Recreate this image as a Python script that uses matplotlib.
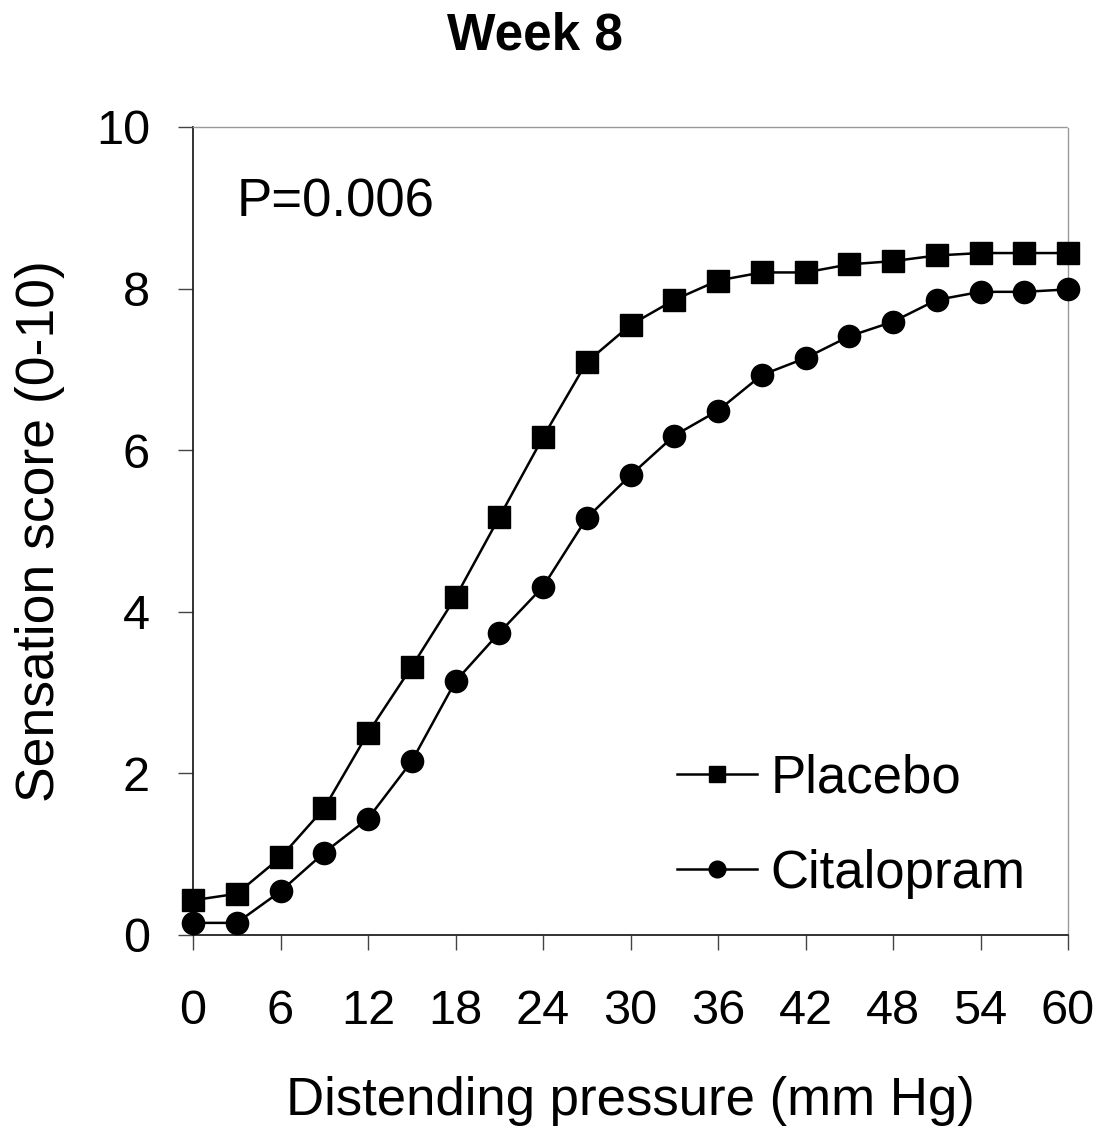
import matplotlib
matplotlib.use("Agg")
import matplotlib.pyplot as plt
from matplotlib.lines import Line2D

plt.rcParams['font.family'] = ['Liberation Sans', 'DejaVu Sans']

pressure = [0, 3, 6, 9, 12, 15, 18, 21, 24, 27, 30, 33, 36, 39, 42, 45, 48, 51, 54, 57, 60]
placebo = [0.43, 0.51, 0.96, 1.57, 2.50, 3.32, 4.18, 5.17, 6.16, 7.09, 7.55, 7.86, 8.10,
           8.20, 8.20, 8.30, 8.34, 8.41, 8.44, 8.44, 8.44]
citalopram = [0.15, 0.15, 0.54, 1.02, 1.44, 2.15, 3.14, 3.74, 4.31, 5.16, 5.69, 6.18, 6.49,
              6.93, 7.14, 7.41, 7.59, 7.86, 7.96, 7.96, 7.99]
xticks = [0, 6, 12, 18, 24, 30, 36, 42, 48, 54, 60]
yticks = [0, 2, 4, 6, 8, 10]
series_names = ["Placebo", "Citalopram"]

W, H = 1108, 1131
fig = plt.figure(figsize=(W / 100, H / 100), dpi=100)
ax = fig.add_axes([193 / W, 1 - 935 / H, (1068 - 193) / W, (935 - 127) / H])

ax.plot(pressure, placebo, color='black', lw=1.8, marker='s', ms=15.5, clip_on=False, zorder=3)
ax.plot(pressure, citalopram, color='black', lw=1.8, marker='o', ms=16, clip_on=False, zorder=3)

ax.set_xlim(0, 60)
ax.set_ylim(0, 10)
ax.set_xticks(xticks)
ax.set_yticks(yticks)
ax.tick_params(axis='both', direction='out', length=11, width=1, color='#444444', labelsize=35)
ax.tick_params(axis='x', pad=28)
ax.tick_params(axis='y', pad=20)

for s in ['left', 'bottom']:
    ax.spines[s].set_color('#222222')
    ax.spines[s].set_linewidth(1.3)
for s in ['top', 'right']:
    ax.spines[s].set_color('#999999')
    ax.spines[s].set_linewidth(1.0)
    ax.spines[s].set_linestyle((0, (1, 1)))

ax.set_xlabel("Distending pressure (mm Hg)", fontsize=38, labelpad=30)
ax.set_ylabel("Sensation score (0-10)", fontsize=38.5, labelpad=22)

ax.text(3.0, 8.89, "P=0.006", fontsize=38, ha='left', va='baseline')

fig.text(535 / W, 1 - 49 / H, "Week 8", fontsize=37, fontweight='bold', ha='center', va='baseline')

handles = [Line2D([], [], color='black', lw=1.8, marker='s', ms=12),
           Line2D([], [], color='black', lw=1.8, marker='o', ms=12)]
ax.legend(handles, series_names, loc='lower left', bbox_to_anchor=(0.553, 0.045),
          frameon=False, fontsize=38, handlelength=1.52, handletextpad=0.25,
          labelspacing=0.86, borderpad=0, borderaxespad=0)

fig.savefig("out.png", dpi=100)
